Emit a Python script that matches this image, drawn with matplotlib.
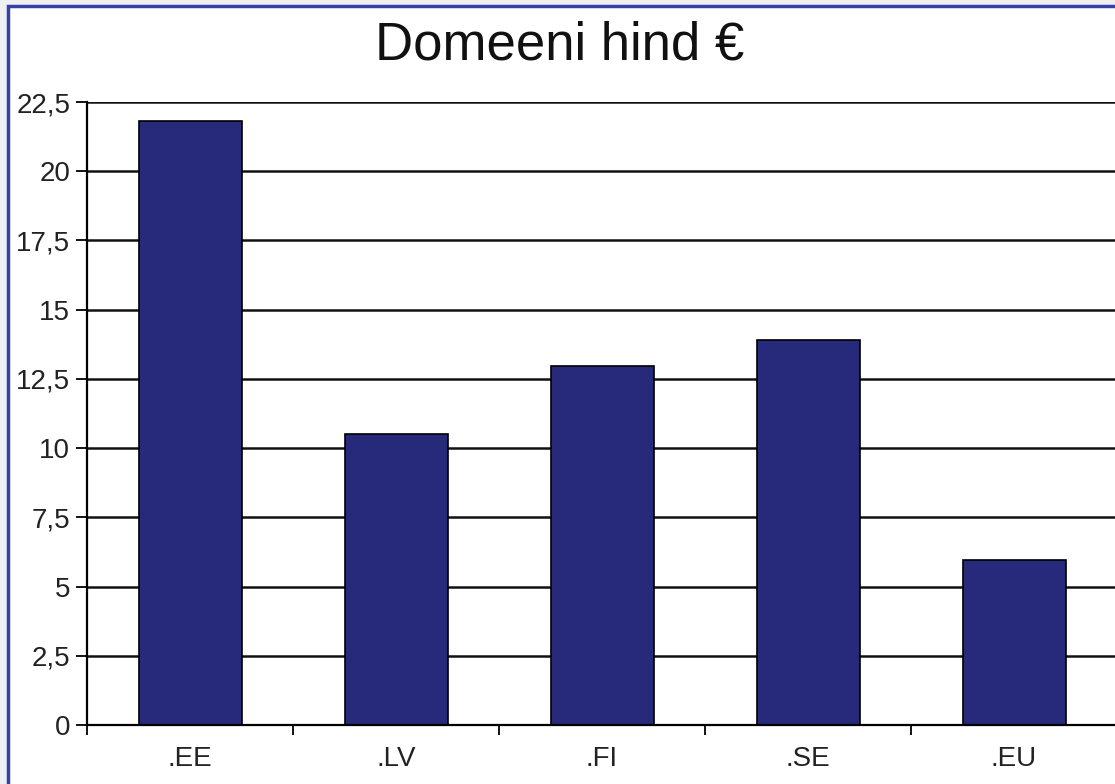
import numpy as np
import matplotlib
matplotlib.use("Agg")
import matplotlib.pyplot as plt
from matplotlib.patches import Rectangle
from matplotlib.ticker import FuncFormatter

# andmed
domains = [".EE", ".LV", ".FI", ".SE", ".EU"]
prices = [21.8, 10.5, 12.95, 13.9, 5.95]
y_ticks = [0, 2.5, 5, 7.5, 10, 12.5, 15, 17.5, 20, 22.5]

plt.rcParams['font.family'] = ['Liberation Sans', 'DejaVu Sans']

fig = plt.figure(figsize=(11.15, 7.84), dpi=100)
fig.patch.set_facecolor('#eef0f4')

# valge taust sinise raamiga
frame = Rectangle((8 / 1115, -0.01), 1.02, 1 - 6 / 784 + 0.01,
                  transform=fig.transFigure, facecolor='white',
                  edgecolor='#3a3fa8', linewidth=2.5, zorder=-1)
fig.add_artist(frame)

ax = fig.add_axes([87 / 1115, 1 - 725 / 784, 1030 / 1115, (725 - 102) / 784])
ax.set_zorder(1)
ax.set_facecolor('white')

x = np.arange(len(domains))
ax.bar(x, prices, width=0.5, color='#27297a', edgecolor='black',
       linewidth=1.2, zorder=3)

ax.set_xlim(-0.5, len(domains) - 0.5)
ax.set_ylim(0, 22.5)
ax.set_yticks(y_ticks)
ax.yaxis.set_major_formatter(FuncFormatter(
    lambda v, p: (f"{v:g}").replace('.', ',')))
ax.grid(axis='y', color='#111111', linewidth=1.8, zorder=1)

ax.set_xticks(x)
ax.set_xticklabels(domains)
ax.set_xticks(np.arange(-0.5, len(domains)), minor=True)
ax.tick_params(axis='x', which='major', length=0, labelsize=20, pad=15,
               colors='#222222')
ax.tick_params(axis='x', which='minor', length=7, width=1.3,
               direction='out', color='black')
ax.tick_params(axis='y', length=8, width=1.3, labelsize=20, pad=4,
               colors='#222222')
ax.tick_params(axis='y', color='black')

for s in ['top', 'right']:
    ax.spines[s].set_visible(False)
for s in ['left', 'bottom']:
    ax.spines[s].set_linewidth(1.6)
    ax.spines[s].set_zorder(4)

fig.text(560 / 1115, 1 - 45 / 784, "Domeeni hind €", ha='center',
         va='center', fontsize=38, color='#111111')

plt.savefig("out.png", dpi=100, facecolor=fig.get_facecolor())
